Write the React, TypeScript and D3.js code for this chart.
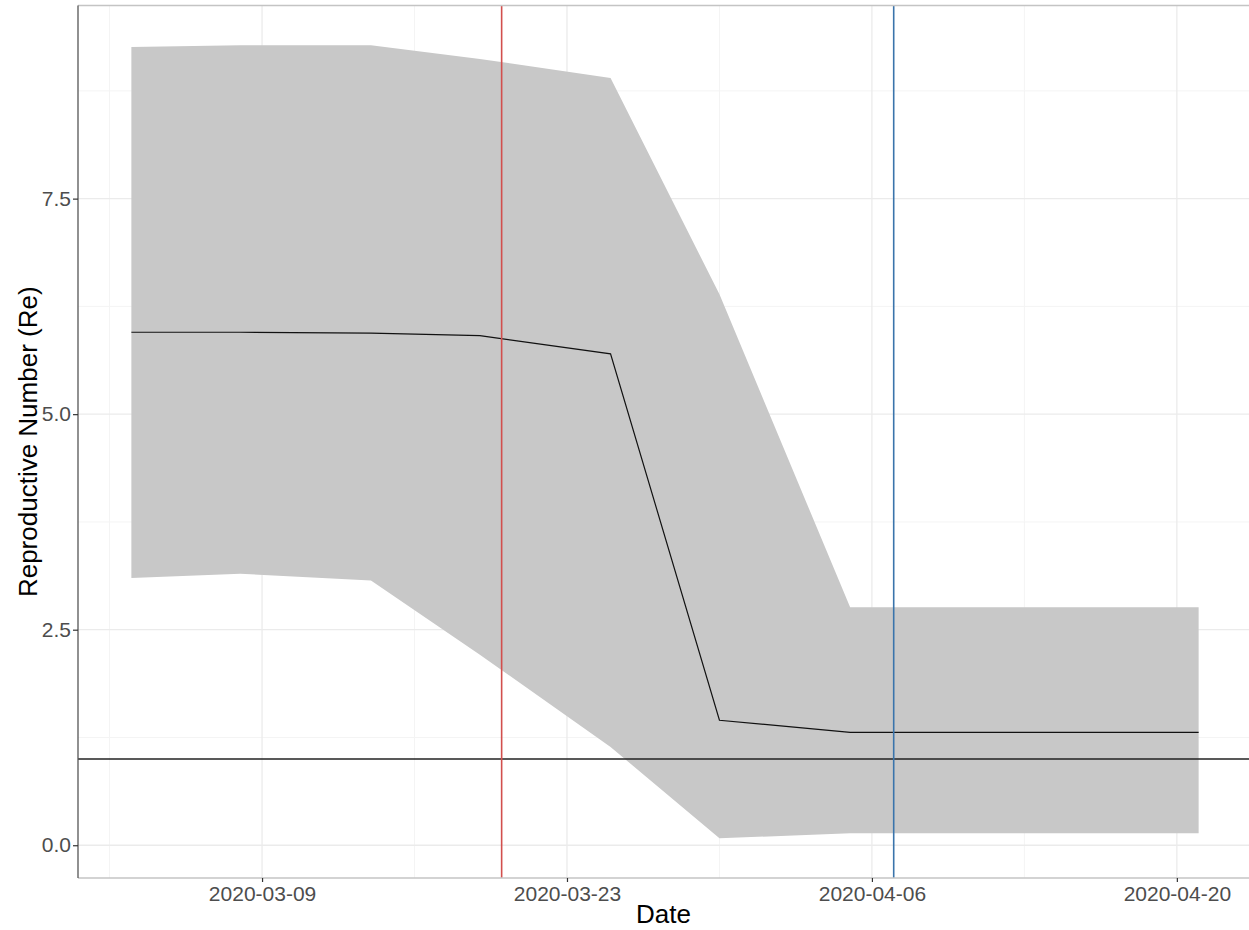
// @ts-nocheck
import React, { useEffect, useRef } from "react";
import * as d3 from "d3";

// estimates of Re per date
const dates = [
  "2020-03-03",
  "2020-03-08",
  "2020-03-14",
  "2020-03-19",
  "2020-03-25",
  "2020-03-30",
  "2020-04-05",
  "2020-04-21",
];
const meanRe = [5.95, 5.95, 5.94, 5.91, 5.7, 1.45, 1.31, 1.31];
const lowerRe = [3.1, 3.15, 3.07, 2.21, 1.14, 0.08, 0.14, 0.14];
const upperRe = [9.26, 9.28, 9.28, 9.12, 8.9, 6.39, 2.76, 2.76];

const redDate = "2020-03-20";
const blueDate = "2020-04-07";
const threshold = 1;

const xTicks = ["2020-03-09", "2020-03-23", "2020-04-06", "2020-04-20"];
const xMinor = ["2020-03-02", "2020-03-16", "2020-03-30", "2020-04-13"];
const yTicks = [0, 2.5, 5, 7.5];
const yMinor = [1.25, 3.75, 6.25, 8.75];

const parse = d3.utcParse("%Y-%m-%d");

const Chart = () => {
  const svgRef = useRef();

  useEffect(() => {
    const width = 1249;
    const height = 930;
    const panel = { left: 78, right: 1252, top: 5.5, bottom: 878 };
    const font = "'Liberation Sans', Arial, sans-serif";

    const svg = d3.select(svgRef.current);
    svg.selectAll("*").remove();
    svg.attr("width", width).attr("height", height);

    const data = dates.map((d, i) => ({
      date: parse(d),
      mean: meanRe[i],
      lo: lowerRe[i],
      hi: upperRe[i],
    }));

    // ggplot style 5% expansion
    const [d0, d1] = d3.extent(data, (d) => d.date);
    const span = d1 - d0;
    const x = d3
      .scaleUtc()
      .domain([new Date(+d0 - span * 0.05), new Date(+d1 + span * 0.05)])
      .range([panel.left, panel.right]);

    const yMin = Math.min(d3.min(lowerRe), threshold);
    const yMax = d3.max(upperRe);
    const ySpan = yMax - yMin;
    const y = d3
      .scaleLinear()
      .domain([yMin - ySpan * 0.05, yMax + ySpan * 0.05])
      .range([panel.bottom, panel.top]);

    svg
      .append("rect")
      .attr("width", width)
      .attr("height", height)
      .attr("fill", "white");

    const g = svg.append("g");

    // minor grid
    g.selectAll(".xminor")
      .data(xMinor)
      .enter()
      .append("line")
      .attr("x1", (d) => x(parse(d)))
      .attr("x2", (d) => x(parse(d)))
      .attr("y1", panel.top)
      .attr("y2", panel.bottom)
      .attr("stroke", "#f4f4f4")
      .attr("stroke-width", 1);
    g.selectAll(".yminor")
      .data(yMinor)
      .enter()
      .append("line")
      .attr("x1", panel.left)
      .attr("x2", width)
      .attr("y1", (d) => y(d))
      .attr("y2", (d) => y(d))
      .attr("stroke", "#f4f4f4")
      .attr("stroke-width", 1);

    // major grid
    g.selectAll(".xmajor")
      .data(xTicks)
      .enter()
      .append("line")
      .attr("x1", (d) => x(parse(d)))
      .attr("x2", (d) => x(parse(d)))
      .attr("y1", panel.top)
      .attr("y2", panel.bottom)
      .attr("stroke", "#ebebeb")
      .attr("stroke-width", 1.3);
    g.selectAll(".ymajor")
      .data(yTicks)
      .enter()
      .append("line")
      .attr("x1", panel.left)
      .attr("x2", width)
      .attr("y1", (d) => y(d))
      .attr("y2", (d) => y(d))
      .attr("stroke", "#ebebeb")
      .attr("stroke-width", 1.3);

    // ribbon
    const area = d3
      .area()
      .x((d) => x(d.date))
      .y0((d) => y(d.lo))
      .y1((d) => y(d.hi));
    g.append("path").datum(data).attr("d", area).attr("fill", "#c8c8c8");

    // mean line
    const line = d3
      .line()
      .x((d) => x(d.date))
      .y((d) => y(d.mean));
    g.append("path")
      .datum(data)
      .attr("d", line)
      .attr("fill", "none")
      .attr("stroke", "#111")
      .attr("stroke-width", 1.2);

    // threshold
    g.append("line")
      .attr("x1", panel.left)
      .attr("x2", width)
      .attr("y1", y(threshold))
      .attr("y2", y(threshold))
      .attr("stroke", "#222")
      .attr("stroke-width", 1.3);

    // intervention lines
    [
      [redDate, "#d24f4d"],
      [blueDate, "#3a74ab"],
    ].forEach(([d, c]) => {
      g.append("line")
        .attr("x1", x(parse(d)))
        .attr("x2", x(parse(d)))
        .attr("y1", panel.top)
        .attr("y2", panel.bottom)
        .attr("stroke", c)
        .attr("stroke-width", 1.6);
    });

    // panel edges
    g.append("line")
      .attr("x1", panel.left)
      .attr("x2", width)
      .attr("y1", panel.top)
      .attr("y2", panel.top)
      .attr("stroke", "#c4c4c4")
      .attr("stroke-width", 1.5);
    g.append("line")
      .attr("x1", panel.left)
      .attr("x2", width)
      .attr("y1", panel.bottom)
      .attr("y2", panel.bottom)
      .attr("stroke", "#c4c4c4")
      .attr("stroke-width", 1.5);
    g.append("line")
      .attr("x1", panel.left)
      .attr("x2", panel.left)
      .attr("y1", panel.top)
      .attr("y2", panel.bottom)
      .attr("stroke", "#555")
      .attr("stroke-width", 1.3);

    // x axis
    const xAxis = g
      .append("g")
      .attr("transform", `translate(0,${panel.bottom})`)
      .call(
        d3
          .axisBottom(x)
          .tickValues(xTicks.map(parse))
          .tickFormat(d3.utcFormat("%Y-%m-%d"))
          .tickSize(4)
          .tickPadding(4),
      );
    xAxis.select(".domain").remove();
    xAxis.selectAll("line").attr("stroke", "#333").attr("stroke-width", 1.2);
    xAxis
      .selectAll("text")
      .attr("fill", "#4d4d4d")
      .style("font-family", font)
      .style("font-size", "21px");

    // y axis
    const yAxis = g
      .append("g")
      .attr("transform", `translate(${panel.left},0)`)
      .call(
        d3
          .axisLeft(y)
          .tickValues(yTicks)
          .tickFormat(d3.format(".1f"))
          .tickSize(5)
          .tickPadding(2),
      );
    yAxis.select(".domain").remove();
    yAxis.selectAll("line").attr("stroke", "#333").attr("stroke-width", 1.2);
    yAxis
      .selectAll("text")
      .attr("fill", "#4d4d4d")
      .style("font-family", font)
      .style("font-size", "21px");

    // titles
    svg
      .append("text")
      .attr("x", (panel.left + width) / 2)
      .attr("y", 923)
      .attr("text-anchor", "middle")
      .style("font-family", font)
      .style("font-size", "26px")
      .attr("fill", "black")
      .text("Date");
    svg
      .append("text")
      .attr(
        "transform",
        `translate(37,${(panel.top + panel.bottom) / 2}) rotate(-90)`,
      )
      .attr("text-anchor", "middle")
      .style("font-family", font)
      .style("font-size", "26px")
      .attr("fill", "black")
      .text("Reproductive Number (Re)");
  }, []);

  return (
    <svg
      ref={svgRef}
      style={{ position: "absolute", left: 0, top: 0, display: "block" }}
    ></svg>
  );
};

export default function App() {
  return <Chart />;
}
